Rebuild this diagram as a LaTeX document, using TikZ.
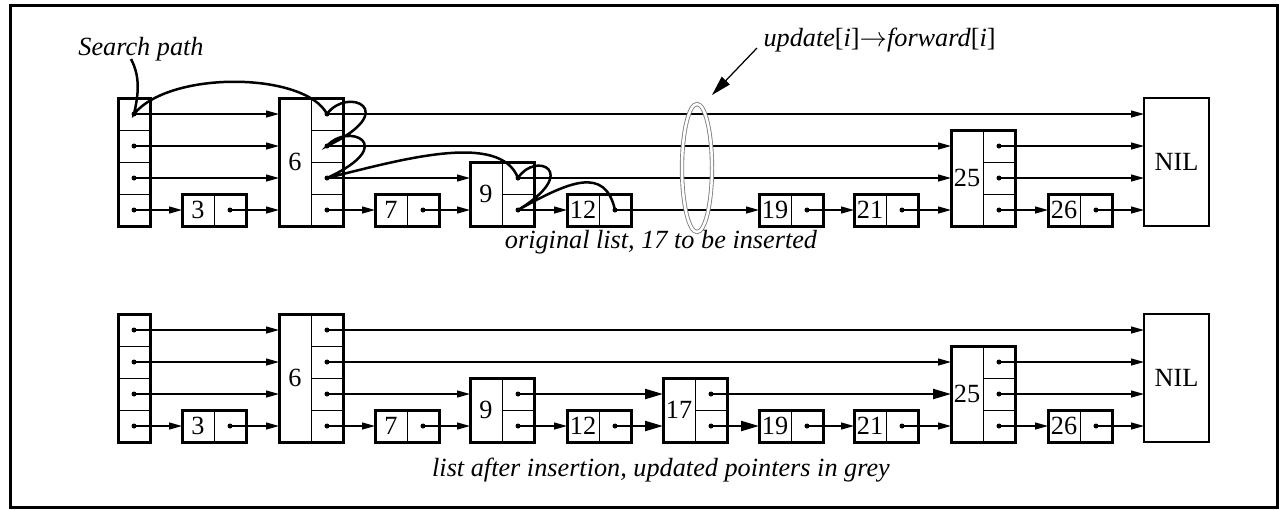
\documentclass[tikz,border=0pt]{standalone}
\usepackage{fontspec}
\setmainfont{Liberation Serif}
\usetikzlibrary{arrows.meta,shapes.geometric}

\newcommand{\cw}{12.8pt}
\tikzset{
  keycell/.style={draw, line width=0.4pt, minimum width=\cw, inner sep=0pt, outer sep=0pt, font=\fontsize{10.5}{12}\selectfont},
  ptrcell/.style={draw, line width=0.4pt, minimum width=\cw, minimum height=\cw, inner sep=0pt, outer sep=0pt},
  boxline/.style={line width=1.2pt},
  nilbox/.style={draw, line width=0.7pt, minimum width=26pt, minimum height=4*\cw, inner sep=0pt, outer sep=0pt, font=\fontsize{10.5}{12}\selectfont},
  ptr/.style={line width=0.5pt, -{Triangle[length=5.2pt,width=2.8pt]}},
  newptr/.style={line width=0.9pt, -{Triangle[length=7.2pt,width=4pt]}},
  updarrow/.style={line width=0.5pt, -{Triangle[length=8pt,width=4.4pt]}},
  lbl/.style={inner sep=0pt, font=\fontsize{10.5}{12}\selectfont\itshape},
  searchpath/.style={line width=1pt},
  updring/.style={ellipse, draw=gray, double=white, double distance=1pt, line width=0.35pt, minimum width=12pt, minimum height=51.2pt, inner sep=0pt},
}

% header of a list: four pointer cells
\newcommand{\headelem}[3]{%
  \foreach \lv in {1,...,4}{
    \node[ptrcell, anchor=south west] (#1-\lv) at ([yshift=(\lv-1)*\cw]#2,#3) {};
    \fill (#1-\lv.center) circle (1pt);
  }
  \draw[boxline] (#1-4.north west) rectangle (#1-1.south east);
}
% list element: name, key, left x, bottom y, levels
\newcommand{\skipelem}[5]{%
  \node[keycell, minimum height=#5*\cw, anchor=south west] (#1) at (#3,#4) {#2};
  \foreach \lv in {1,...,#5}{
    \node[ptrcell, anchor=south west] (#1-\lv) at ([yshift=(\lv-1)*\cw]#1.south east) {};
    \fill (#1-\lv.center) circle (1pt);
  }
  \draw[boxline] (#1.north west) rectangle (#1-1.south east);
}

\begin{document}
\begin{tikzpicture}[x=0.4pt, y=-0.4pt]
\useasboundingbox (0,0) rectangle (1281,509);
\draw[line width=1.2pt] (10,5) rectangle (1277,507);

% original list
\headelem{th}{118}{226}
\skipelem{t3}{3}{182}{226}{1}
\skipelem{t6}{6}{279}{226}{4}
\skipelem{t7}{7}{375}{226}{1}
\skipelem{t9}{9}{470}{226}{2}
\skipelem{t12}{12}{567}{226}{1}
\skipelem{t19}{19}{759}{226}{1}
\skipelem{t21}{21}{854}{226}{1}
\skipelem{t25}{25}{951}{226}{3}
\skipelem{t26}{26}{1048}{226}{1}
\node[nilbox, anchor=south west] (tnil) at (1144,226) {NIL};

\foreach \a/\b in {th-4/t6, t6-4/tnil, th-3/t6, t6-3/t25, th-2/t6, t6-2/t9, t9-2/t25,
    t25-3/tnil, t25-2/tnil, th-1/t3, t3-1/t6, t6-1/t7, t7-1/t9, t9-1/t12, t12-1/t19,
    t19-1/t21, t21-1/t25, t25-1/t26, t26-1/tnil}
  \draw[ptr] (\a.center) -- (\b.west |- \a.center);

% search path
\node[lbl] (splbl) at (141,49) {Search path};
\draw[searchpath] ([shift={(-10,10)}]splbl.center) .. controls (141,78) and (138,96) .. (th-4.center)
  .. controls +(36,-44) and +(-22,-42) .. (t6-4.center)
  .. controls +(20,-28) and +(76,-36) .. (t6-3.center)
  .. controls +(20,-24) and +(74,-34) .. (t6-2.center)
  .. controls +(73,-18) and +(-18,-47) .. (t9-2.center)
  .. controls +(17,-27) and +(64,-39) .. (t9-1.center)
  .. controls +(52,-29) and +(-10,-44) .. (t12-1.center);

\node[updring] (ring) at (697,168) {};
\node[lbl, anchor=west] (updlbl) at (763,40) {update\textup{[}i\textup{]}$\rightarrow$forward\textup{[}i\textup{]}};
\coordinate (ringtip) at (712,95);
\draw[updarrow] ([shift={(-6,8)}]updlbl.west) -- (ringtip);

\node[lbl] (cap1) at (661,242) {original list, 17 to be inserted};

% list after insertion
\headelem{bh}{118}{442}
\skipelem{b3}{3}{182}{442}{1}
\skipelem{b6}{6}{279}{442}{4}
\skipelem{b7}{7}{375}{442}{1}
\skipelem{b9}{9}{470}{442}{2}
\skipelem{b12}{12}{567}{442}{1}
\skipelem{b17}{17}{663}{442}{2}
\skipelem{b19}{19}{759}{442}{1}
\skipelem{b21}{21}{854}{442}{1}
\skipelem{b25}{25}{951}{442}{3}
\skipelem{b26}{26}{1048}{442}{1}
\node[nilbox, anchor=south west] (bnil) at (1144,442) {NIL};

\foreach \a/\b in {bh-4/b6, b6-4/bnil, bh-3/b6, b6-3/b25, bh-2/b6, b6-2/b9,
    b25-3/bnil, b25-2/bnil, bh-1/b3, b3-1/b6, b6-1/b7, b7-1/b9, b9-1/b12,
    b19-1/b21, b21-1/b25, b25-1/b26, b26-1/bnil}
  \draw[ptr] (\a.center) -- (\b.west |- \a.center);
% updated pointers
\foreach \a/\b in {b9-2/b17, b17-2/b25, b12-1/b17, b17-1/b19}
  \draw[newptr] (\a.center) -- (\b.west |- \a.center);

\node[lbl] (cap2) at (661,470) {list after insertion, updated pointers in grey};
\end{tikzpicture}
\end{document}
